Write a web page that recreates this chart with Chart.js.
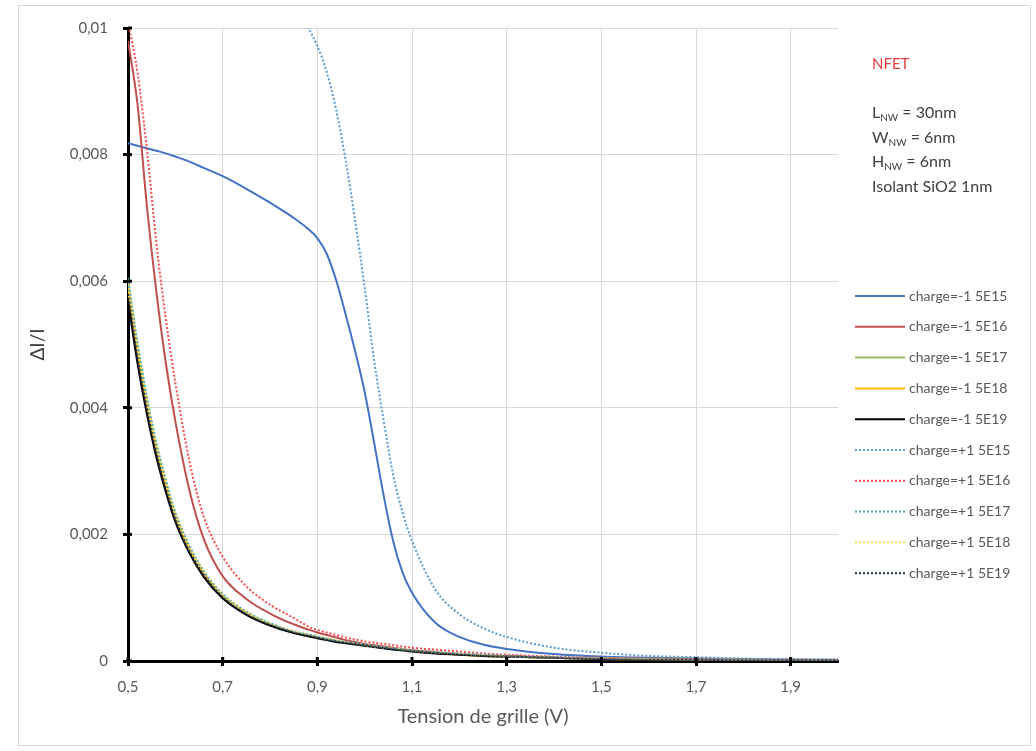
<!DOCTYPE html>
<html>
<head>
<meta charset="utf-8">
<title>ΔI/I NFET</title>
<script src="https://cdn.jsdelivr.net/npm/chart.js@4/dist/chart.umd.min.js"></script>
<style>
    html, body { margin: 0; padding: 0; background: #fff; }
    #frame {
        position: absolute; left: 18px; top: 5px;
        width: 1011px; height: 739px;
        border: 1px solid #d9d9d9;
    }
    #chart { position: absolute; left: 0; top: 0; }
</style>
</head>
<body>
<div id="frame"></div>
<canvas id="chart" width="1036" height="751"></canvas>
<script>
// ============================================
// Données
// ============================================

// Tension de grille (V)
const vg = [0.5, 0.52, 0.54, 0.56, 0.58, 0.6, 0.63, 0.66, 0.7, 0.75, 0.8, 0.85, 0.88, 0.9,
    0.92, 0.94, 0.96, 0.98, 1.0, 1.02, 1.04, 1.06, 1.08, 1.1, 1.15, 1.2, 1.25, 1.3,
    1.4, 1.5, 1.6, 1.7, 1.8, 1.9, 2.0];

const xTicks = [0.5, 0.7, 0.9, 1.1, 1.3, 1.5, 1.7, 1.9];
const yTicks = [0, 0.002, 0.004, 0.006, 0.008, 0.01];

const labels = [
    'charge=-1 5E15', 'charge=-1 5E16', 'charge=-1 5E17', 'charge=-1 5E18', 'charge=-1 5E19',
    'charge=+1 5E15', 'charge=+1 5E16', 'charge=+1 5E17', 'charge=+1 5E18', 'charge=+1 5E19'
];

// charges négatives (traits pleins)
const neg15 = [0.00818, 0.00814, 0.00810, 0.00806, 0.00802, 0.00797, 0.00789, 0.00779, 0.00766,
    0.00746, 0.00724, 0.00700, 0.00683, 0.00668, 0.00643, 0.00601, 0.00547, 0.00489, 0.00425,
    0.00345, 0.00262, 0.00190, 0.00140, 0.00108, 0.00060, 0.00038, 0.00026, 0.00019, 0.00011,
    0.00007, 0.00005, 0.00004, 0.00003, 0.00002, 0.00002];
const neg16 = [0.00980, 0.00880, 0.00718, 0.00583, 0.00470, 0.00379, 0.00269, 0.00193, 0.00134,
    0.00098, 0.00075, 0.00058, 0.00050, 0.00045, 0.00041, 0.00037, 0.00033, 0.00030, 0.00027,
    0.00025, 0.00023, 0.00021, 0.00019, 0.00017, 0.00014, 0.00011, 0.00009, 0.00008, 0.00005,
    0.00004, 0.00003, 0.00002, 0.00002, 0.00001, 0.00001];
const neg17 = [0.00600, 0.00496, 0.00411, 0.00339, 0.00281, 0.00232, 0.00179, 0.00140, 0.00104,
    0.00077, 0.00059, 0.00046, 0.00041, 0.00038, 0.00035, 0.00032, 0.00029, 0.00027, 0.00025,
    0.00023, 0.00021, 0.00019, 0.00018, 0.00016, 0.00013, 0.00011, 0.00009, 0.00007, 0.00005,
    0.00004, 0.00003, 0.00002, 0.00002, 0.00001, 0.00001];
const neg18 = [0.00585, 0.00483, 0.00400, 0.00330, 0.00274, 0.00226, 0.00174, 0.00136, 0.00101,
    0.00075, 0.00057, 0.00045, 0.00040, 0.00037, 0.00034, 0.00031, 0.00029, 0.00027, 0.00025,
    0.00023, 0.00021, 0.00019, 0.00017, 0.00016, 0.00013, 0.00010, 0.00008, 0.00007, 0.00005,
    0.00003, 0.00002, 0.00002, 0.00001, 0.00001, 0.00001];
const neg19 = [0.00570, 0.00471, 0.00390, 0.00322, 0.00267, 0.00220, 0.00170, 0.00133, 0.00099,
    0.00073, 0.00056, 0.00044, 0.00039, 0.00036, 0.00033, 0.00030, 0.00028, 0.00026, 0.00024,
    0.00022, 0.00020, 0.00018, 0.00017, 0.00015, 0.00012, 0.00010, 0.00008, 0.00007, 0.00005,
    0.00003, 0.00002, 0.00002, 0.00001, 0.00001, 0.00001];

// charges positives (pointillés) - null = hors du graphique
const pos15 = [null, null, null, null, null, null, null, null, null, null, null, null, 0.01002,
    0.00972, 0.00930, 0.00870, 0.00790, 0.00695, 0.00590, 0.00475, 0.00380, 0.00295, 0.00235,
    0.00190, 0.00112, 0.00074, 0.00052, 0.00038, 0.00021, 0.00013, 0.00008, 0.00006, 0.00004,
    0.00003, 0.00002];
const pos16 = [0.01010, 0.00930, 0.00808, 0.00660, 0.00540, 0.00440, 0.00315, 0.00228, 0.00165,
    0.00118, 0.00089, 0.00068, 0.00055, 0.00049, 0.00045, 0.00041, 0.00037, 0.00034, 0.00031,
    0.00029, 0.00027, 0.00025, 0.00023, 0.00021, 0.00018, 0.00015, 0.00012, 0.00010, 0.00007,
    0.00005, 0.00004, 0.00003, 0.00002, 0.00002, 0.00001];
const pos17 = [0.00605, 0.00504, 0.00417, 0.00345, 0.00286, 0.00235, 0.00182, 0.00142, 0.00106,
    0.00078, 0.00060, 0.00047, 0.00042, 0.00039, 0.00035, 0.00032, 0.00030, 0.00028, 0.00026,
    0.00024, 0.00022, 0.00020, 0.00018, 0.00017, 0.00014, 0.00012, 0.00010, 0.00008, 0.00006,
    0.00004, 0.00003, 0.00002, 0.00002, 0.00002, 0.00001];
const pos18 = [0.00602, 0.00500, 0.00413, 0.00341, 0.00283, 0.00233, 0.00180, 0.00141, 0.00105,
    0.00077, 0.00059, 0.00047, 0.00041, 0.00038, 0.00035, 0.00032, 0.00030, 0.00027, 0.00025,
    0.00023, 0.00021, 0.00020, 0.00018, 0.00016, 0.00013, 0.00011, 0.00009, 0.00007, 0.00005,
    0.00004, 0.00003, 0.00002, 0.00002, 0.00001, 0.00001];
const pos19 = [0.00580, 0.00480, 0.00398, 0.00328, 0.00272, 0.00224, 0.00173, 0.00136, 0.00101,
    0.00074, 0.00057, 0.00045, 0.00040, 0.00037, 0.00034, 0.00031, 0.00029, 0.00027, 0.00025,
    0.00023, 0.00021, 0.00019, 0.00017, 0.00016, 0.00013, 0.00010, 0.00008, 0.00007, 0.00005,
    0.00003, 0.00002, 0.00002, 0.00001, 0.00001, 0.00001];

const series = [neg15, neg16, neg17, neg18, neg19, pos15, pos16, pos17, pos18, pos19];

// Styles
const colors = ['#4472C4', '#C0504D', '#9BBB59', '#FFC000', '#000000',
    '#5B9BD5', '#FF4B4B', '#4BACC6', '#FFD966', '#1F2F4F'];

const FONT = 'Lato, "Open Sans", sans-serif';
const GRID = '#d9d9d9';
const TEXT = '#595959';

function fmt(v, digits) {
    return String(+v.toFixed(digits)).replace('.', ',');
}

// ============================================
// Légende et annotations à droite
// ============================================
const sideLegend = {
    id: 'sideLegend',
    afterDraw(chart) {
        const ctx = chart.ctx;
        ctx.save();
        ctx.textBaseline = 'middle';
        chart.data.datasets.forEach((ds, i) => {
            const y = 296 + i * 30.8;
            ctx.beginPath();
            ctx.strokeStyle = ds.borderColor;
            ctx.lineWidth = ds.borderWidth;
            ctx.setLineDash(ds.borderDash || []);
            ctx.moveTo(855, y);
            ctx.lineTo(905, y);
            ctx.stroke();
            ctx.setLineDash([]);
            ctx.fillStyle = TEXT;
            ctx.font = '14px ' + FONT;
            ctx.fillText(ds.label, 909, y);
        });
        ctx.restore();
    }
};

const notes = {
    id: 'notes',
    afterDraw(chart) {
        const ctx = chart.ctx;
        ctx.save();
        ctx.textBaseline = 'alphabetic';
        ctx.fillStyle = '#E03C3C';
        ctx.font = '15px ' + FONT;
        ctx.fillText('NFET', 872, 69);

        ctx.fillStyle = '#404040';
        const rows = [['L', 'NW', ' = 30nm'], ['W', 'NW', ' = 6nm'], ['H', 'NW', ' = 6nm'], ['Isolant SiO2 1nm', '', '']];
        rows.forEach((r, i) => {
            const y = 118 + i * 24.5;
            let x = 872;
            ctx.font = '16px ' + FONT;
            ctx.fillText(r[0], x, y);
            x += ctx.measureText(r[0]).width;
            if (r[1]) {
                ctx.font = '10px ' + FONT;
                ctx.fillText(r[1], x, y + 3);
                x += ctx.measureText(r[1]).width;
                ctx.font = '16px ' + FONT;
                ctx.fillText(r[2], x, y);
            }
        });
        ctx.restore();
    }
};

// petites graduations qui traversent les axes (côté intérieur)
const innerTicks = {
    id: 'innerTicks',
    afterDraw(chart) {
        const { ctx, chartArea, scales } = chart;
        ctx.save();
        ctx.strokeStyle = '#000';
        ctx.lineWidth = 3;
        scales.x.ticks.forEach(t => {
            const x = scales.x.getPixelForValue(t.value);
            ctx.beginPath();
            ctx.moveTo(x, chartArea.bottom);
            ctx.lineTo(x, chartArea.bottom - 4);
            ctx.stroke();
        });
        scales.y.ticks.forEach(t => {
            const y = scales.y.getPixelForValue(t.value);
            ctx.beginPath();
            ctx.moveTo(chartArea.left, y);
            ctx.lineTo(chartArea.left + 4, y);
            ctx.stroke();
        });
        ctx.restore();
    }
};

// ============================================
// Graphique
// ============================================
const datasets = series.map((values, i) => {
    const dotted = i >= 5;
    return {
        label: labels[i],
        data: vg.map((x, k) => ({ x, y: values[k] })).filter(p => p.y !== null),
        borderColor: colors[i],
        backgroundColor: colors[i],
        borderWidth: 2,
        borderDash: dotted ? [2, 2] : [],
        pointRadius: 0,
        cubicInterpolationMode: 'monotone',
        order: 20 - i
    };
});

new Chart(document.getElementById('chart'), {
    type: 'line',
    data: { datasets },
    options: {
        responsive: false,
        animation: false,
        events: [],
        layout: { padding: { left: 0, right: 198, top: 28, bottom: 0 } },
        plugins: {
            legend: { display: false },
            tooltip: { enabled: false }
        },
        scales: {
            x: {
                type: 'linear',
                min: 0.5,
                max: 2.0,
                afterBuildTicks: scale => {
                    scale.ticks = xTicks.map(v => ({ value: v }));
                },
                afterFit: scale => { scale.height = 90; },
                ticks: {
                    autoSkip: false,
                    maxRotation: 0,
                    padding: 12,
                    color: TEXT,
                    font: { family: FONT, size: 15 },
                    callback: v => fmt(v, 1)
                },
                grid: { color: GRID, lineWidth: 1, tickColor: '#000', tickWidth: 3, tickLength: 5 },
                border: { color: '#000', width: 3 },
                title: {
                    display: true,
                    text: 'Tension de grille (V)',
                    color: TEXT,
                    font: { family: FONT, size: 20 },
                    padding: { top: 0, bottom: 22 }
                }
            },
            y: {
                min: 0,
                max: 0.01,
                afterBuildTicks: scale => {
                    scale.ticks = yTicks.map(v => ({ value: v }));
                },
                afterFit: scale => { scale.width = 128; },
                ticks: {
                    padding: 15,
                    color: TEXT,
                    font: { family: FONT, size: 15 },
                    callback: v => v === 0 ? '0' : fmt(v, 3)
                },
                grid: { color: GRID, lineWidth: 1, tickColor: '#000', tickWidth: 3, tickLength: 5 },
                border: { color: '#000', width: 3 },
                title: {
                    display: true,
                    text: 'ΔI/I',
                    color: '#404040',
                    font: { family: FONT, size: 19 },
                    padding: { top: 26, bottom: 0 }
                }
            }
        }
    },
    plugins: [sideLegend, notes, innerTicks]
});
</script>
</body>
</html>
